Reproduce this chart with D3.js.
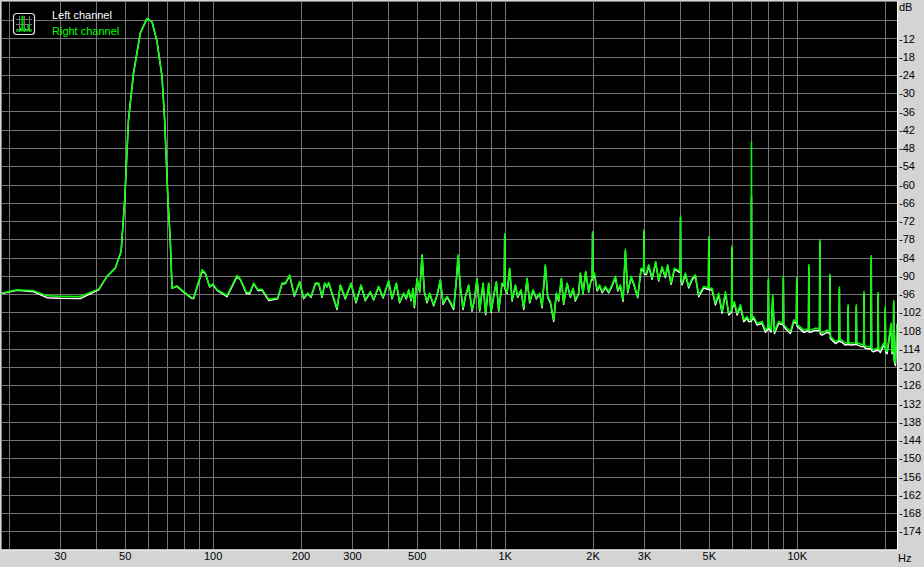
<html>
<head>
<style>
  body { margin: 0; background: #d4d4d4; }
  svg { display: block; font-family: "Liberation Sans", Arial, sans-serif; }
</style>
<script src="https://cdn.jsdelivr.net/npm/d3@7"></script>
</head>
<body>
<div id="chart"></div>
<script>
// spectrum data (Hz, dB)
const freqHz = [19, 21.4, 24.4, 27.1, 30, 35.2, 40.7, 43.5, 46.4, 48.6, 50, 51.5, 53.6, 56.5, 59.6, 62.0, 64.5, 67.1, 68.5, 70.3,
  71.6, 72.6, 75.5, 79.6, 85.0, 86.1, 92.0, 94.4, 97.7, 100.3, 103.5, 112, 121.2, 124.4, 130.5, 133.9, 138.2, 143.0, 147.6, 155.5,
  167, 172.9, 177.4, 183.5, 190.5, 198.6, 204.9, 211.5, 217.3, 224.7, 230.7, 237, 241.9, 246.5, 249.7, 256.5, 266.7, 273.7, 284.7, 297.8,
  309.7, 322.2, 333.4, 346.7, 355.9, 370.2, 383.3, 400.6, 411.5, 425.6, 436.9, 450.8, 460.6, 469.1, 478.1, 485.7, 490.8, 501.2, 511.6, 521.4,
  530.9, 542.3, 553.6, 571.3, 586.8, 602.3, 615.2, 634.9, 651.6, 668.8, 683.3, 692.4, 705.1, 720.2, 733.4, 752.7, 773.2, 787.3, 804.3, 821,
  843.3, 860.9, 881.5, 898.3, 922, 936.6, 953.9, 979.7, 1000, 1019, 1040, 1060, 1088, 1108, 1138, 1162, 1193, 1218, 1251, 1284,
  1318, 1343, 1378, 1404, 1434, 1472, 1503, 1531, 1564, 1592, 1636, 1679, 1715, 1746, 1792, 1816, 1855, 1894, 1940, 1977,
  2000, 2029, 2073, 2115, 2156, 2213, 2271, 2333, 2394, 2438, 2490, 2544, 2590, 2638, 2710, 2766, 2854, 2932, 3000, 3057,
  3113, 3197, 3289, 3368, 3459, 3550, 3616, 3715, 3813, 3895, 4000, 4051, 4158, 4267, 4383, 4499, 4617, 4803, 5000, 5132,
  5267, 5406, 5553, 5700, 5850, 6000, 6118, 6251, 6416, 6585, 6763, 6849, 7000, 7124, 7317, 7610, 7811, 8000, 8173, 8277,
  8389, 8678, 9000, 9150, 9515, 9765, 10000, 10240, 10568, 11000, 11202, 11588, 12000, 12218, 12709, 13000, 13220, 13568, 14000, 14191,
  14683, 15000, 15274, 16000, 16180, 16749, 17000, 17325, 18000, 18264, 18850, 19000, 19347, 19858, 20100, 20393, 21047, 21213, 21483, 21777,
  22050];

const rightDb = [-95.7, -94.6, -94.9, -96.6, -96.7, -96.8, -94.4, -90.2, -87.5, -82.0, -65, -38.8, -23.4, -10.3, -5.4, -6.5, -13.0, -24.5, -38.8, -65.0,
  -78.2, -94.1, -93.3, -95.2, -97.3, -97.3, -88.0, -89.1, -93.5, -92.7, -94.6, -96.5, -89.9, -91.1, -95.4, -95.5, -92.4, -94.6, -94.4, -97.7,
  -97.3, -92.4, -92.4, -89.7, -96.3, -91.9, -97.3, -95.7, -96.8, -92.4, -92.4, -96.8, -92.4, -93.5, -92.2, -95.7, -100.6, -93.0, -97.3, -92.4,
  -98.5, -93.0, -97.9, -95.2, -97.7, -93.5, -97.0, -91.6, -97.3, -92.4, -98.5, -95.7, -97.3, -94.6, -97.9, -94.1, -100.1, -90.8, -95.2, -83.1,
  -95.2, -98.5, -95.7, -99.5, -96.3, -91.3, -99.0, -96.8, -98.5, -100.6, -91.3, -83.1, -93.5, -100.6, -96.8, -93.0, -101.2, -97.9, -90.8, -101.2,
  -92.4, -102.3, -92.4, -101.7, -95.2, -91.9, -101.2, -92.4, -76.2, -95.7, -87.5, -97.9, -93.0, -96.8, -94.6, -100.6, -90.8, -98.5, -94.6, -97.3,
  -95.7, -100.1, -86.4, -96.8, -98.5, -104.5, -95.7, -97.9, -90.8, -99.0, -92.4, -96.8, -94.1, -97.9, -95.7, -89.1, -95.7, -88.6, -95.2, -91.3,
  -75.5, -89.1, -94.6, -93.0, -95.2, -93.5, -95.2, -93.0, -90.2, -94.6, -93.0, -97.9, -81.3, -95.2, -90.2, -92.4, -96.8, -87.5, -74.9, -89.1,
  -86.4, -90.8, -85.3, -91.3, -87.0, -90.2, -86.4, -92.4, -87.5, -88.0, -70.3, -92.4, -89.1, -93.5, -90.8, -89.7, -96.3, -93.5, -77.3, -94.1,
  -99.0, -95.7, -101.7, -95.2, -102.3, -80.2, -98.5, -102.3, -99.5, -104.5, -103.4, -104.5, -46.0, -103.4, -105.6, -105.0, -107.8, -90.8, -107.8, -96.3,
  -108.3, -105.0, -90.2, -106.7, -108.3, -104.5, -90.6, -106.7, -107.8, -86.4, -107.8, -107.2, -78.2, -108.8, -107.8, -89.5, -110.5, -111.6, -93.7, -111.0,
  -112.1, -99.5, -112.1, -99.5, -112.1, -112.7, -95.2, -113.2, -83.4, -114.3, -113.8, -95.5, -114.3, -112.1, -100.1, -114.9, -105.6, -114.9, -98.1, -118.7,
  -105.6];

const leftDb = [-95.8, -94.8, -95.3, -97.2, -97.4, -97.5, -94.6, -90.2, -87.5, -82.0, -65, -38.8, -23.4, -10.3, -5.4, -6.5, -13.0, -24.5, -38.8, -65.0,
  -78.2, -94.1, -93.5, -95.4, -97.5, -97.5, -88.5, -89.3, -93.7, -92.9, -94.8, -96.9, -90.3, -91.3, -95.8, -95.9, -92.6, -94.9, -94.7, -98.1,
  -97.6, -92.6, -92.6, -90.0, -96.7, -92.1, -97.6, -95.9, -97.1, -92.6, -92.6, -97.1, -92.6, -93.7, -92.4, -96.0, -101.1, -93.2, -97.6, -92.6,
  -98.9, -93.2, -98.2, -95.4, -98.0, -93.7, -97.3, -91.8, -97.6, -92.6, -98.9, -95.9, -97.6, -94.8, -98.2, -94.3, -100.5, -91.0, -95.4, -83.3,
  -95.4, -98.9, -95.9, -99.9, -96.5, -91.5, -99.4, -97.0, -98.9, -101.1, -91.5, -84.0, -93.7, -101.1, -97.0, -93.2, -101.6, -98.1, -91.0, -101.6,
  -92.6, -102.8, -92.6, -102.1, -95.4, -92.1, -101.6, -92.6, -77.0, -95.9, -87.7, -98.3, -93.2, -97.1, -94.8, -101.1, -91.0, -98.9, -94.8, -97.6,
  -95.9, -100.5, -86.8, -97.1, -98.9, -105.0, -95.9, -98.3, -91.0, -99.4, -92.6, -97.1, -94.3, -98.3, -95.9, -89.3, -95.9, -88.8, -95.4, -91.5,
  -76.0, -89.6, -95.0, -93.4, -95.6, -93.9, -95.6, -93.4, -90.6, -95.0, -93.4, -98.4, -82.0, -95.6, -90.6, -92.8, -97.2, -88.0, -75.5, -89.6,
  -86.8, -91.2, -85.7, -91.7, -87.4, -90.6, -86.8, -92.8, -87.9, -88.4, -71.0, -93.0, -89.6, -94.0, -91.3, -90.2, -96.9, -94.0, -78.0, -94.7,
  -99.6, -96.3, -102.3, -95.8, -102.9, -81.0, -99.1, -102.9, -100.1, -105.1, -104.0, -105.1, -64.0, -104.0, -106.2, -105.6, -108.6, -91.5, -108.5, -97.0,
  -109.0, -105.7, -91.0, -107.4, -109.0, -105.2, -91.3, -107.4, -108.6, -87.2, -108.5, -107.9, -79.0, -109.5, -108.5, -90.2, -111.2, -112.3, -94.5, -111.7,
  -112.8, -100.2, -112.8, -100.2, -112.8, -113.4, -96.0, -113.9, -84.2, -115.0, -114.5, -96.2, -115.2, -112.8, -100.9, -115.6, -106.3, -115.6, -98.9, -119.5,
  -106.3];

// feet of the narrow harmonic spikes (read from the baseline either side of each spike)
const footHz = [997, 1003, 1994, 2006, 2992, 3008, 3990, 4010, 4985, 5015, 5982, 6018, 6980, 7020, 7977, 8023,
  8975, 9025, 9972, 10028, 10970, 11030, 11965, 12035, 12960, 13040, 13960, 14040, 14955, 15045, 15950, 16050,
  16950, 17050, 17945, 18055, 18945, 19055, 20040, 20160, 21420, 21545];
const footRightDb = [-93.0, -94.0, -91.0, -90.0, -88.0, -89.0, -88.5, -91.0, -94.0, -94.0, -101.5, -100.0, -104.5, -104.0, -107.0, -106.5,
  -105.5, -106.0, -105.0, -106.0, -107.5, -108.0, -107.5, -108.5, -108.5, -110.0, -111.0, -111.0, -112.0, -112.0, -112.0, -112.0,
  -112.5, -113.0, -113.5, -114.0, -114.0, -114.0, -113.0, -114.5, -115.0, -117.0];
const footLeftDb = [-93.4, -94.4, -91.4, -90.5, -88.5, -89.5, -89.0, -91.5, -94.5, -94.6, -102.0, -100.6, -105.0, -104.6, -107.6, -107.1,
  -106.1, -106.6, -105.6, -106.6, -108.1, -108.6, -108.1, -109.1, -109.1, -110.6, -111.6, -111.6, -112.6, -112.6, -112.6, -112.6,
  -113.1, -113.6, -114.1, -114.6, -114.6, -114.6, -113.6, -115.1, -115.6, -117.6];

const gridFreqs = [20, 30, 40, 50, 60, 70, 80, 90, 100, 200, 300, 400, 500, 600, 700, 800, 900,
  1000, 2000, 3000, 4000, 5000, 6000, 7000, 8000, 9000, 10000, 20000];
const xTickValues = [30, 50, 100, 200, 300, 500, 1000, 2000, 3000, 5000, 10000];
const xTickLabels = ["30", "50", "100", "200", "300", "500", "1K", "2K", "3K", "5K", "10K"];
const dbGrid = [-6, -12, -18, -24, -30, -36, -42, -48, -54, -60, -66, -72, -78, -84, -90, -96, -102, -108, -114,
  -120, -126, -132, -138, -144, -150, -156, -162, -168, -174];
const dbLabels = dbGrid.slice(1);
const seriesNames = ["Left channel", "Right channel"];
const seriesColors = ["#ffffff", "#00ff00"];

const width = 924, height = 567;
const plot = { left: 2, top: 2, right: 897, bottom: 549.5 };

const svg = d3.select("#chart").append("svg")
  .attr("width", width).attr("height", height);

svg.append("rect").attr("width", width).attr("height", height).attr("fill", "#d4d4d4");

const x = d3.scaleLog().domain([19, 22050]).range([plot.left, plot.right]);
const y = d3.scaleLinear().domain([0, -180]).range([plot.top, plot.bottom]);

svg.append("rect")
  .attr("x", plot.left).attr("y", plot.top)
  .attr("width", plot.right - plot.left).attr("height", plot.bottom - plot.top)
  .attr("fill", "#000");

svg.append("clipPath").attr("id", "clip").append("rect")
  .attr("x", plot.left).attr("y", plot.top)
  .attr("width", plot.right - plot.left).attr("height", plot.bottom - plot.top);

// grid
const grid = svg.append("g").attr("stroke", "#737373").attr("stroke-width", 1);
grid.selectAll("line.v").data(gridFreqs).enter().append("line")
  .attr("x1", d => Math.round(x(d)) + 0.5).attr("x2", d => Math.round(x(d)) + 0.5)
  .attr("y1", plot.top).attr("y2", plot.bottom);
grid.selectAll("line.h").data(dbGrid).enter().append("line")
  .attr("x1", plot.left).attr("x2", plot.right)
  .attr("y1", d => Math.round(y(d)) + 0.5).attr("y2", d => Math.round(y(d)) + 0.5);

// frame (sunken look)
svg.append("path").attr("d", `M1.5,${plot.bottom}V1.5H${plot.right}`)
  .attr("fill", "none").attr("stroke", "#808080");
svg.append("path").attr("d", `M1,${plot.bottom + 0.5}H${plot.right + 0.5}V1`)
  .attr("fill", "none").attr("stroke", "#ffffff");

// merge main points and spike feet, sorted by frequency
function series(vals, footVals) {
  const pts = freqHz.map((f, k) => [f, vals[k]])
    .concat(footHz.map((f, k) => [f, footVals[k]]));
  return pts.sort((a, b) => a[0] - b[0]);
}

const line = d3.line().x(d => x(d[0])).y(d => y(d[1]));
const curves = svg.append("g").attr("clip-path", "url(#clip)");
[series(leftDb, footLeftDb), series(rightDb, footRightDb)].forEach((pts, i) => {
  curves.append("path")
    .datum(pts)
    .attr("d", line)
    .attr("fill", "none")
    .attr("stroke", seriesColors[i])
    .attr("stroke-width", 1.5)
    .attr("stroke-linejoin", "round");
});

// axes
const yAxis = svg.append("g")
  .attr("transform", `translate(${plot.right},0)`)
  .call(d3.axisRight(y).tickValues(dbLabels).tickSize(0).tickPadding(2).tickFormat(d => d));
yAxis.select(".domain").remove();
yAxis.selectAll("text").attr("font-size", 11).attr("font-family", "Liberation Sans, Arial, sans-serif").attr("fill", "#000");

const xAxis = svg.append("g")
  .attr("transform", `translate(0,${plot.bottom})`)
  .call(d3.axisBottom(x).tickValues(xTickValues).tickSize(0).tickPadding(3)
    .tickFormat((d, i) => xTickLabels[i]));
xAxis.select(".domain").remove();
xAxis.selectAll("text").attr("font-size", 11).attr("font-family", "Liberation Sans, Arial, sans-serif").attr("fill", "#000");

svg.append("text").attr("x", 899).attr("y", 11).attr("font-size", 11).text("dB");
svg.append("text").attr("x", 898).attr("y", 561.5).attr("font-size", 11).text("Hz");

// legend
const icon = svg.append("g").attr("transform", "translate(13,13)");
icon.append("rect").attr("x", 0.5).attr("y", 0.5).attr("width", 21).attr("height", 21)
  .attr("rx", 3).attr("fill", "#000").attr("stroke", "#e0e0e0").attr("stroke-width", 1.2);
[6, 11, 16].forEach(p => {
  icon.append("line").attr("x1", p + 0.5).attr("x2", p + 0.5).attr("y1", 3).attr("y2", 19).attr("stroke", "#777");
  icon.append("line").attr("y1", p + 0.5).attr("y2", p + 0.5).attr("x1", 3).attr("x2", 19).attr("stroke", "#777");
});
icon.append("path").attr("d", "M3,18H7V15H8V18H9V3H10V18H12V16H13V18H15V12H16V18H19")
  .attr("fill", "none").attr("stroke", "#00ff00").attr("stroke-width", 1);

seriesNames.forEach((name, i) => {
  svg.append("text").attr("x", 52).attr("y", 18.5 + i * 16)
    .attr("font-size", 11).attr("fill", seriesColors[i]).text(name);
});
</script>
</body>
</html>
